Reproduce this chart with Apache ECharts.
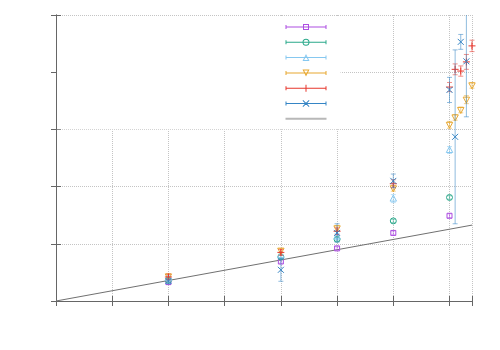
<!DOCTYPE html>
<html>
<head>
<meta charset="utf-8">
<script src="https://cdn.jsdelivr.net/npm/echarts@6.0.0/dist/echarts.min.js"></script>
<style>
    html, body { margin: 0; padding: 0; background: #fff; }
    #chart { width: 500px; height: 350px; }
</style>
</head>
<body>
<div id="chart"></div>
<script>
// values (arbitrary units, the picture has no labels)
let xShort = [20, 40, 50, 60, 70];
let xLong = [20, 40, 50, 60, 70, 71, 72, 73, 74];
let xBlue = [20, 40, 50, 60, 70, 71, 72, 73];

let purpleY = [3.3, 6.9, 9.2, 11.9, 14.9];
let purpleErr = [0.4, 0.3, 0.3, 0.35, 0.35];
let greenY = [3.6, 7.7, 10.8, 14.0, 18.1];
let greenErr = [0.3, 0.3, 0.3, 0.3, 0.3];
let skyY = [4.0, 8.0, 11.3, 17.9, 26.4];
let skyErr = [0.4, 0.5, 0.5, 0.7, 0.6];
let orangeY = [4.3, 8.8, 12.7, 19.7, 30.8, 32.1, 33.4, 35.2, 37.7];
let orangeErr = [0.4, 0.4, 0.5, 0.5, 0.6, 0.5, 0.5, 0.7, 0.5];
let redY = [4.2, 8.5, 12.2, 20.5, 37.4, 40.5, 40.2, 41.8, 44.6];
let redErr = [0.5, 0.5, 0.6, 0.7, 0.8, 0.95, 0.9, 1.3, 1.0];
let blueY = [3.5, 5.45, 11.9, 21.0, 36.9, 28.7, 45.3, 41.9];
let blueErr = [0.5, 2.0, 1.6, 1.2, 2.2, 15.2, 1.3, 9.7];

let refX = [0, 74];
let refY = [0, 13.27];

let xTicks = [0, 74, 10];
let yTicks = [0, 50, 10];

let names = ['s1', 's2', 's3', 's4', 's5', 's6', 'ref'];
let colors = ['#ad4fe2', '#2aa98b', '#86c8f0', '#e8a830', '#e8372c', '#3585c5', '#b8b8b8'];
let axisColor = '#666';
let gridColor = '#c4c4c4';

// legend icons: line with end caps and the point shape in the middle (41 x 7 box)
let baseIcon = 'M0 3H41V4H0Z M0 1.5H1V5.5H0Z M40 1.5H41V5.5H40Z ';
let icons = {
    square: baseIcon + 'M17.5 0.5H23.5V6.5H17.5Z M18.5 1.5V5.5H22.5V1.5Z M20 0H20.01V0.01H20Z M20 6.99H20.01V7H20Z',
    circle: baseIcon + 'M17 3.5A3.5 3.5 0 1 1 24 3.5A3.5 3.5 0 1 1 17 3.5Z M18 3.5A2.5 2.5 0 1 0 23 3.5A2.5 2.5 0 1 0 18 3.5Z',
    triangle: baseIcon + 'M20.5 0L24 7H17Z M20.5 2.2L18.6 6H22.4Z',
    down: baseIcon + 'M17 0H24L20.5 7Z M18.6 1L20.5 4.8L22.4 1Z',
    plus: baseIcon + 'M20 0H21V7H20Z',
    cross: baseIcon + 'M17 0.7L17.7 0L24 6.3L23.3 7Z M23.3 0L24 0.7L17.7 7L17 6.3Z',
    line: 'M0 2.5H41V4.5H0Z M0 0H0.01V0.01H0Z M0 6.99H0.01V7H0Z'
};

function zipData(xs, ys, es) {
    let out = [];
    for (let i = 0; i < ys.length; i++) {
        out.push([xs[i], ys[i], es[i]]);
    }
    return out;
}

function markerShape(shape, p, color) {
    let st = {stroke: color, fill: null, lineWidth: 1};
    if (shape === 'square') {
        return [{type: 'rect', shape: {x: p[0] - 2.5, y: p[1] - 2.5, width: 5, height: 5}, style: st}];
    }
    if (shape === 'circle') {
        return [{type: 'circle', shape: {cx: p[0], cy: p[1], r: 3}, style: st}];
    }
    if (shape === 'triangle') {
        return [{type: 'polygon', shape: {points: [[p[0], p[1] - 3.5], [p[0] + 3.2, p[1] + 2.5], [p[0] - 3.2, p[1] + 2.5]]}, style: st}];
    }
    if (shape === 'down') {
        return [{type: 'polygon', shape: {points: [[p[0] - 3.2, p[1] - 2.5], [p[0] + 3.2, p[1] - 2.5], [p[0], p[1] + 3.5]]}, style: st}];
    }
    if (shape === 'plus') {
        return [
            {type: 'line', shape: {x1: p[0] - 3.5, y1: p[1], x2: p[0] + 3.5, y2: p[1]}, style: st},
            {type: 'line', shape: {x1: p[0], y1: p[1] - 3.5, x2: p[0], y2: p[1] + 3.5}, style: st}
        ];
    }
    return [
        {type: 'line', shape: {x1: p[0] - 3, y1: p[1] - 3, x2: p[0] + 3, y2: p[1] + 3}, style: st},
        {type: 'line', shape: {x1: p[0] - 3, y1: p[1] + 3, x2: p[0] + 3, y2: p[1] - 3}, style: st}
    ];
}

function errorBarRender(shape, color) {
    return function (params, api) {
        let x = api.value(0), y = api.value(1), e = api.value(2);
        let p = api.coord([x, y]);
        let hi = api.coord([x, y + e]);
        let lo = api.coord([x, y - e]);
        let cs = params.coordSys;
        let top = Math.max(hi[1], cs.y);
        let bot = Math.min(lo[1], cs.y + cs.height);
        let bar = {stroke: color, lineWidth: 1, opacity: 0.55};
        let children = [
            {type: 'line', shape: {x1: p[0], y1: top, x2: p[0], y2: bot}, style: bar}
        ];
        if (hi[1] >= cs.y) {
            children.push({type: 'line', shape: {x1: p[0] - 2.5, y1: hi[1], x2: p[0] + 2.5, y2: hi[1]}, style: bar});
        }
        if (lo[1] <= cs.y + cs.height) {
            children.push({type: 'line', shape: {x1: p[0] - 2.5, y1: lo[1], x2: p[0] + 2.5, y2: lo[1]}, style: bar});
        }
        children = children.concat(markerShape(shape, p, color));
        return {type: 'group', children: children};
    };
}

function errSeries(name, shape, color, data) {
    return {
        name: name,
        type: 'custom',
        itemStyle: {color: color},
        renderItem: errorBarRender(shape, color),
        data: data,
        z: 3
    };
}

let chart = echarts.init(document.getElementById('chart'));
let shapes = ['square', 'circle', 'triangle', 'down', 'plus', 'cross', 'line'];

let legendData = [];
for (let i = 0; i < names.length; i++) {
    legendData.push({name: names[i], icon: 'path://' + icons[shapes[i]], itemStyle: {color: colors[i], borderWidth: 0}});
}

let hiddenAxis = {
    axisLabel: {show: false},
    splitLine: {show: false},
    axisLine: {show: true, lineStyle: {color: axisColor, width: 1}},
    axisTick: {show: true, inside: true, length: 5, lineStyle: {color: axisColor}}
};
let dotted = {show: true, lineStyle: {color: gridColor, type: 'dotted', width: 1}};

let option = {
    backgroundColor: '#fff',
    animation: false,
    grid: {left: 56, top: 15, width: 416, height: 286},
    legend: {
        orient: 'vertical',
        left: 57,
        top: 16,
        padding: [7.5, 9, 7, 228.5],
        backgroundColor: '#fff',
        itemWidth: 41,
        itemHeight: 7,
        itemGap: 8.3,
        symbolKeepAspect: true,
        selectedMode: false,
        formatter: function () { return ''; },
        textStyle: {fontSize: 1, lineHeight: 1},
        data: legendData
    },
    xAxis: [
        Object.assign({type: 'value', min: xTicks[0], max: xTicks[1], interval: xTicks[2], position: 'bottom'},
            hiddenAxis, {splitLine: dotted}),
        Object.assign({type: 'value', min: xTicks[0], max: xTicks[1], interval: xTicks[2], position: 'top'},
            hiddenAxis)
    ],
    yAxis: [
        Object.assign({type: 'value', min: yTicks[0], max: yTicks[1], interval: yTicks[2], position: 'left'},
            hiddenAxis, {splitLine: dotted}),
        Object.assign({type: 'value', min: yTicks[0], max: yTicks[1], interval: yTicks[2], position: 'right'},
            hiddenAxis)
    ],
    series: [
        errSeries(names[0], shapes[0], colors[0], zipData(xShort, purpleY, purpleErr)),
        errSeries(names[1], shapes[1], colors[1], zipData(xShort, greenY, greenErr)),
        errSeries(names[2], shapes[2], colors[2], zipData(xShort, skyY, skyErr)),
        errSeries(names[3], shapes[3], colors[3], zipData(xLong, orangeY, orangeErr)),
        errSeries(names[4], shapes[4], colors[4], zipData(xLong, redY, redErr)),
        errSeries(names[5], shapes[5], colors[5], zipData(xBlue, blueY, blueErr)),
        {
            name: 'ref',
            type: 'line',
            data: refX.map(function (v, i) { return [v, refY[i]]; }),
            symbol: 'none',
            lineStyle: {color: '#707070', width: 1},
            itemStyle: {color: colors[6]},
            z: 2
        }
    ]
};
chart.setOption(option);
</script>
</body>
</html>
